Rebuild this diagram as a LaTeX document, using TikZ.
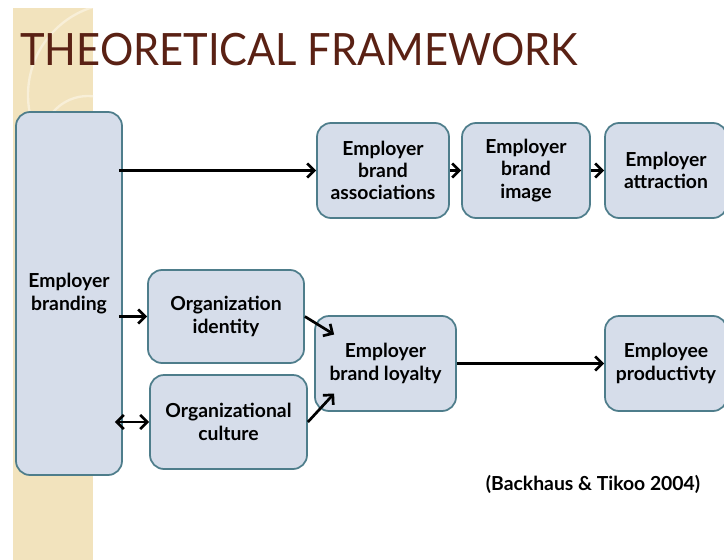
\documentclass[tikz,border=0pt]{standalone}
\usepackage{fontspec}
\setmainfont{Lato}
\usetikzlibrary{arrows.meta}

\definecolor{boxfill}{HTML}{D6DDEA}
\definecolor{boxline}{HTML}{4E7D8B}
\definecolor{titlebrown}{HTML}{5A2114}
\definecolor{stripe}{HTML}{F2E3BD}
\definecolor{swirl}{HTML}{F8EFD8}

\tikzset{
  block/.style={draw=boxline, fill=boxfill, line width=1.5pt, rounded corners=12pt,
    align=center, inner sep=0pt, font=\bfseries\fontsize{16.5}{19}\selectfont},
  tip/.style={Straight Barb[length=6pt,width=12pt,line width=2.3pt]},
  link/.style={-{Straight Barb[length=6pt,width=12pt,line width=2.3pt]}, line width=2.3pt},
  twoway/.style={{Straight Barb[length=6pt,width=12pt,line width=2.3pt]}-{Straight Barb[length=6pt,width=12pt,line width=2.3pt]}, line width=2.3pt}
}

\begin{document}
\begin{tikzpicture}[x=0.03cm,y=-0.03cm]
  \useasboundingbox (0,0) rectangle (724,560);
  \clip (0,0) rectangle (724,560);

  % side stripe with faint rings
  \fill[stripe] (13,8) rectangle (93,560);
  \begin{scope}
    \clip (13,8) rectangle (93,560);
    \draw[swirl, line width=2pt] (120,95) circle (92);
    \draw[swirl, line width=2pt] (88,142) circle (46);
  \end{scope}

  \node[anchor=base west, inner sep=0pt, text=titlebrown, font=\fontsize{38}{40}\selectfont]
    (title) at (20,65) {\scalebox{0.935}[1]{THEORETICAL FRAMEWORK}};

  % boxes
  \node[block, minimum width=3.18cm, minimum height=10.89cm] (brand) at (69,293.5) {Employer\\branding};
  \node[block, minimum width=3.96cm, minimum height=2.85cm] (assoc) at (383,170.5) {Employer\\brand\\associations};
  \node[block, minimum width=3.84cm, minimum height=2.85cm] (image) at (526,170.5) {Employer\\brand\\image};
  \node[block, minimum width=3.66cm, minimum height=2.85cm] (attract) at (666,170.5) {Employer\\attraction};
  \node[block, minimum width=4.68cm, minimum height=2.79cm] (ident) at (226,316.5) {Organization\\identity};
  \node[block, minimum width=4.71cm, minimum height=2.82cm] (cult) at (228.5,422) {Organizational\\culture};
  \node[block, minimum width=4.23cm, minimum height=2.85cm] (loyal) at (385.5,363.5) {Employer\\brand loyalty};
  \node[block, minimum width=3.66cm, minimum height=2.85cm] (prod) at (666,363.5) {Employee\\productivty};

  % connectors
  \draw[link] ([xshift=-0.12cm]brand.east |- assoc.west) -- (assoc.west);
  \draw[link] (assoc) -- (image);
  \draw[link] (image) -- (attract);
  \draw[link] ([xshift=-0.12cm]brand.east |- ident.west) -- (ident.west);
  \draw[twoway] ([xshift=-0.24cm]brand.east |- cult.west) -- (cult.west);
  \draw[link] (ident.east) -- ([shift={(20,-29)}]loyal.west);
  \draw[link] (cult.east) -- ([shift={(20,30)}]loyal.west);
  \draw[link] (loyal) -- (prod);

  \node[font=\bfseries\fontsize{16.5}{19}\selectfont] (cite) at (593,484) {(Backhaus \& Tikoo 2004)};
\end{tikzpicture}
\end{document}
